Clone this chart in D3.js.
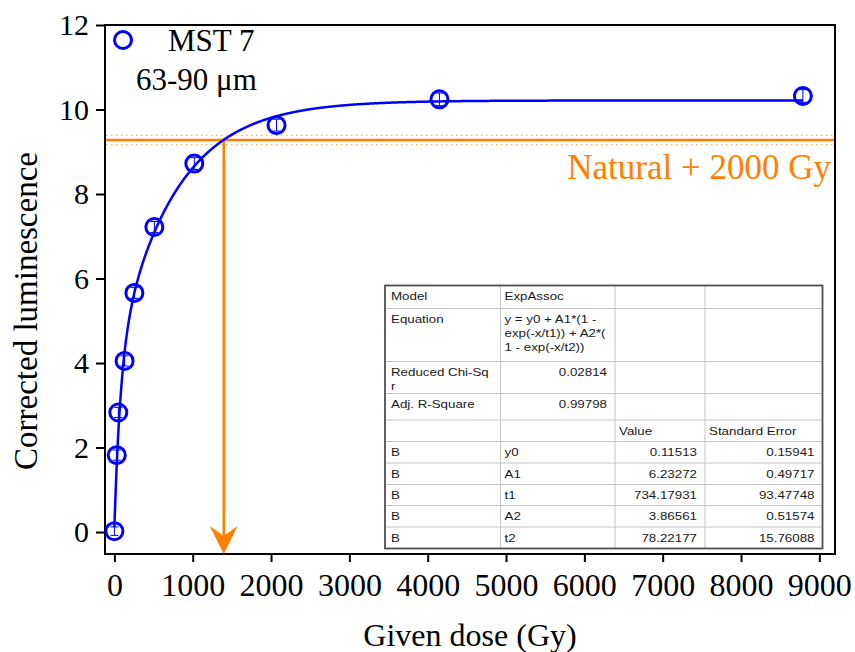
<!DOCTYPE html>
<html>
<head>
<meta charset="utf-8">
<script src="https://cdn.jsdelivr.net/npm/d3@7"></script>
<style>
  body { margin: 0; background: #fff; }
  svg { display: block; }
</style>
</head>
<body>
<svg id="chart"></svg>
<script>
var width = 855,
    height = 652;

// measured points (dose in Gy, corrected luminescence)
var doses = [0, 30, 50, 130, 255, 510, 1020, 2070, 4150, 8790];
var lum = [0.02, 1.82, 2.83, 4.05, 5.66, 7.22, 8.72, 9.63, 10.24, 10.32];
var lumErr = [0.1, 0.12, 0.12, 0.12, 0.13, 0.13, 0.14, 0.14, 0.15, 0.15];

// natural + 2000 Gy level and where it meets the curve
var naturalLum = 9.28,
    naturalErr = 0.11,
    naturalDose = 1396;

var xTicks = [0, 1000, 2000, 3000, 4000, 5000, 6000, 7000, 8000, 9000];
var yTicks = [0, 2, 4, 6, 8, 10, 12];

// fit table
var paramNames = ['y0', 'A1', 't1', 'A2', 't2'];
var paramValues = ['0.11513', '6.23272', '734.17931', '3.86561', '78.22177'];
var paramErrors = ['0.15941', '0.49717', '93.47748', '0.51574', '15.76088'];
var tableHead = [
    ['Model', 'ExpAssoc', '', ''],
    ['Equation', 'y = y0 + A1*(1 -\nexp(-x/t1)) + A2*(\n1 - exp(-x/t2))', '', ''],
    ['Reduced Chi-Sq\nr', '0.02814', '', ''],
    ['Adj. R-Square', '0.99798', '', ''],
    ['', '', 'Value', 'Standard Error']
];

var blue = '#0000ff',
    orange = '#ff8000',
    serif = 'Liberation Serif, Times New Roman, serif',
    sans = 'Liberation Sans, Arial, sans-serif';

var svg = d3.select('#chart').attr('width', width).attr('height', height);

var x = d3.scaleLinear().domain([-120, 9200]).range([105, 835]);
var y = d3.scaleLinear().domain([-0.52, 12]).range([554, 25]);

// axes
var yAxis = svg.append('g')
    .attr('transform', 'translate(105,0)')
    .call(d3.axisLeft(y).tickValues(yTicks).tickSize(9).tickSizeOuter(0).tickPadding(7));
var xAxis = svg.append('g')
    .attr('transform', 'translate(0,554)')
    .call(d3.axisBottom(x).tickValues(xTicks).tickFormat(d3.format('d')).tickSize(8).tickSizeOuter(0).tickPadding(11));
[yAxis, xAxis].forEach(function(a) {
    a.select('.domain').remove();
    a.selectAll('line').attr('stroke', '#000').attr('stroke-width', 2);
    a.selectAll('text').attr('font-family', serif).attr('fill', '#000');
});
yAxis.selectAll('text').attr('font-size', '30px');
xAxis.selectAll('text').attr('font-size', '32px');

// frame
svg.append('rect')
    .attr('x', 105).attr('y', 25)
    .attr('width', 730).attr('height', 529)
    .attr('fill', 'none').attr('stroke', '#000').attr('stroke-width', 2);

// axis titles
svg.append('text')
    .attr('transform', 'translate(37,' + 311 + ') rotate(-90)')
    .attr('text-anchor', 'middle')
    .attr('font-family', serif).attr('font-size', '33px')
    .text('Corrected luminescence');
svg.append('text')
    .attr('x', 470).attr('y', 646)
    .attr('text-anchor', 'middle')
    .attr('font-family', serif).attr('font-size', '32px')
    .text('Given dose (Gy)');

// natural level lines
var nat = svg.append('g');
[naturalLum - naturalErr, naturalLum + naturalErr].forEach(function(v) {
    nat.append('line')
        .attr('x1', 106).attr('x2', 834)
        .attr('y1', y(v)).attr('y2', y(v))
        .attr('stroke', '#ffb266').attr('stroke-width', 1.2)
        .attr('stroke-dasharray', '1.5,3.5');
});
nat.append('line')
    .attr('x1', 106).attr('x2', 834)
    .attr('y1', y(naturalLum)).attr('y2', y(naturalLum))
    .attr('stroke', orange).attr('stroke-width', 2.5);
nat.append('line')
    .attr('x1', x(naturalDose)).attr('x2', x(naturalDose))
    .attr('y1', y(naturalLum)).attr('y2', y.range()[0] - 12)
    .attr('stroke', orange).attr('stroke-width', 2.5);
var ax = x(naturalDose), ay = y.range()[0];
nat.append('path')
    .attr('d', 'M' + ax + ',' + ay + 'L' + (ax - 14) + ',' + (ay - 28) +
        'L' + ax + ',' + (ay - 18) + 'L' + (ax + 14) + ',' + (ay - 28) + 'Z')
    .attr('fill', orange);
nat.append('text')
    .attr('x', 831).attr('y', 179)
    .attr('text-anchor', 'end')
    .attr('font-family', serif).attr('font-size', '35px')
    .attr('fill', orange)
    .text('Natural + 2000 Gy');

// fitted curve from the table parameters
var p = paramValues.map(Number);
function fit(d) {
    return p[0] + p[1] * (1 - Math.exp(-d / p[2])) + p[3] * (1 - Math.exp(-d / p[4]));
}
var curveDoses = d3.range(0, doses[doses.length - 1], 5).concat([doses[doses.length - 1]]);
svg.append('path')
    .datum(curveDoses)
    .attr('d', d3.line().x(function(d) { return x(d); }).y(function(d) { return y(fit(d)); }))
    .attr('fill', 'none').attr('stroke', blue).attr('stroke-width', 2.5);

// points with error bars
var pts = svg.selectAll('.pt')
    .data(doses)
    .enter()
    .append('g')
    .attr('class', 'pt');
pts.append('line')
    .attr('x1', function(d) { return x(d); }).attr('x2', function(d) { return x(d); })
    .attr('y1', function(d, i) { return y(lum[i] - lumErr[i]); })
    .attr('y2', function(d, i) { return y(lum[i] + lumErr[i]); })
    .attr('stroke', blue).attr('stroke-width', 1);
[-1, 1].forEach(function(s) {
    pts.append('line')
        .attr('x1', function(d) { return x(d) - 4; }).attr('x2', function(d) { return x(d) + 4; })
        .attr('y1', function(d, i) { return y(lum[i] + s * lumErr[i]); })
        .attr('y2', function(d, i) { return y(lum[i] + s * lumErr[i]); })
        .attr('stroke', blue).attr('stroke-width', 1);
});
pts.append('circle')
    .attr('cx', function(d) { return x(d); })
    .attr('cy', function(d, i) { return y(lum[i]); })
    .attr('r', 8.5)
    .attr('fill', 'none').attr('stroke', blue).attr('stroke-width', 3);

// legend
svg.append('circle')
    .attr('cx', 123).attr('cy', 40).attr('r', 8.5)
    .attr('fill', 'none').attr('stroke', blue).attr('stroke-width', 3);
svg.append('text')
    .attr('x', 168).attr('y', 51)
    .attr('font-family', serif).attr('font-size', '31px')
    .text('MST 7');
svg.append('text')
    .attr('x', 136).attr('y', 90)
    .attr('font-family', serif).attr('font-size', '31px')
    .text('63-90 \u03bcm');

// results table
var tableRows = tableHead.concat(paramNames.map(function(n, i) {
    return ['B', n, paramValues[i], paramErrors[i]];
}));
var colX = [385, 500.5, 615, 705, 822.5];
var rowY = [285.5, 308.5, 361.5, 393.5, 420, 441.5, 463, 484.5, 505.5, 527, 548.5];
var table = svg.append('g');
table.append('rect')
    .attr('x', colX[0]).attr('y', rowY[0])
    .attr('width', colX[4] - colX[0]).attr('height', rowY[rowY.length - 1] - rowY[0])
    .attr('fill', '#fff');
rowY.slice(1, -1).forEach(function(ry) {
    table.append('line')
        .attr('x1', colX[0]).attr('x2', colX[4]).attr('y1', ry).attr('y2', ry)
        .attr('stroke', '#c4c4c4').attr('stroke-width', 1);
});
colX.slice(1, -1).forEach(function(cx) {
    table.append('line')
        .attr('x1', cx).attr('x2', cx).attr('y1', rowY[0]).attr('y2', rowY[rowY.length - 1])
        .attr('stroke', '#c4c4c4').attr('stroke-width', 1);
});
table.append('rect')
    .attr('x', colX[0]).attr('y', rowY[0])
    .attr('width', colX[4] - colX[0]).attr('height', rowY[rowY.length - 1] - rowY[0])
    .attr('fill', 'none').attr('stroke', '#505050').attr('stroke-width', 1.8);
tableRows.forEach(function(row, r) {
    row.forEach(function(cell, c) {
        if (!cell) return;
        var num = /^[\d.]+$/.test(cell);
        cell.split('\n').forEach(function(line, k) {
            var tx = num ? colX[c + 1] - 8 : colX[c] + (c === 0 ? 6 : 4);
            var ty = rowY[r] + 14.5 + k * 14.2;
            table.append('text')
                .attr('transform', 'translate(' + tx + ',' + ty + ') scale(1.16, 1)')
                .attr('text-anchor', num ? 'end' : 'start')
                .attr('font-family', sans).attr('font-size', '11.5px')
                .attr('fill', '#1a1a1a')
                .text(line);
        });
    });
});
</script>
</body>
</html>
